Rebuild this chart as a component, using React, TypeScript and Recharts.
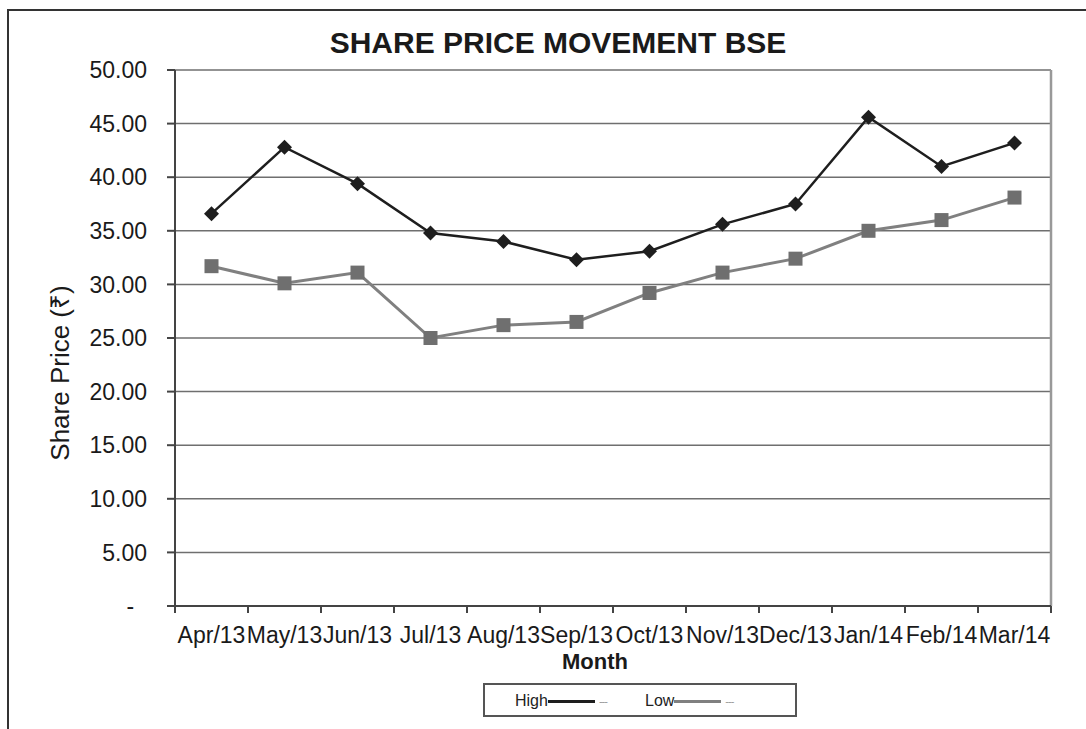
import { LineChart, Line, XAxis, YAxis, CartesianGrid, ReferenceLine } from "recharts";

const MONTHS = ["Apr/13", "May/13", "Jun/13", "Jul/13", "Aug/13", "Sep/13", "Oct/13", "Nov/13", "Dec/13", "Jan/14", "Feb/14", "Mar/14"];
const HIGH = [36.6, 42.8, 39.4, 34.8, 34.0, 32.3, 33.1, 35.6, 37.5, 45.6, 41.0, 43.2];
const LOW = [31.7, 30.1, 31.1, 25.0, 26.2, 26.5, 29.2, 31.1, 32.4, 35.0, 36.0, 38.1];
const Y_TICKS = [0, 5, 10, 15, 20, 25, 30, 35, 40, 45, 50];

// x positions: band centres on a numeric axis so tick marks sit between months
const data = MONTHS.map((month, i) => ({ pos: i + 0.5, month, high: HIGH[i], low: LOW[i] }));
const BOUNDARIES = MONTHS.map((_, i) => i).concat(MONTHS.length);
const CENTERS = MONTHS.map((_, i) => i + 0.5);

const FONT = '"Liberation Sans", Arial, sans-serif';
const HIGH_COLOR = "#1e1e1e";
const LOW_COLOR = "#808080";

function Diamond(props: any) {
  const { cx, cy } = props;
  if (cx == null || cy == null) return null;
  const r = 7.5;
  return <path d={`M${cx},${cy - r}L${cx + r},${cy}L${cx},${cy + r}L${cx - r},${cy}Z`} fill={HIGH_COLOR} />;
}

function Square(props: any) {
  const { cx, cy } = props;
  if (cx == null || cy == null) return null;
  return <rect x={cx - 7} y={cy - 7} width={14} height={14} fill="#6f6f6f" />;
}

function LegendItem({ name, color, left }: { name: string; color: string; left: number }) {
  return (
    <div style={{ position: "absolute", left, top: 7, display: "flex", alignItems: "center", fontSize: 16, color: "#222" }}>
      <span>{name}</span>
      <span style={{ display: "inline-block", width: 47, height: 3, background: color }} />
      <span style={{ fontSize: 11, color: "#999", marginLeft: 4, letterSpacing: -1 }}>---</span>
    </div>
  );
}

export default function App() {
  return (
    <div style={{ position: "absolute", left: 0, top: 0, width: 1086, height: 729, overflow: "hidden", background: "#fff", fontFamily: FONT }}>
      <div style={{ position: "absolute", left: 7, top: 9, right: -5, bottom: -5, borderTop: "2px solid #333", borderLeft: "2px solid #333" }} />

      <LineChart width={1086} height={729} data={data} margin={{ top: 70, right: 35, left: 95, bottom: 86 }}>
        <CartesianGrid xAxisId="a_ticks" vertical={false} stroke="#6f6f6f" strokeWidth={1.5} />
        <XAxis
          xAxisId="a_ticks"
          type="number"
          dataKey="pos"
          domain={[0, 12]}
          ticks={BOUNDARIES}
          tickFormatter={() => ""}
          height={7}
          tickSize={7}
          stroke="#444"
          strokeWidth={2}
        />
        <XAxis
          xAxisId="b_labels"
          type="number"
          dataKey="pos"
          domain={[0, 12]}
          ticks={CENTERS}
          tickFormatter={(v: number) => MONTHS[Math.floor(v)]}
          axisLine={false}
          tickLine={false}
          height={30}
          tickMargin={8}
          interval={0}
          tick={{ fontSize: 23, fill: "#1a1a1a", fontFamily: FONT }}
        />
        <YAxis
          type="number"
          domain={[0, 50]}
          ticks={Y_TICKS}
          width={80}
          tickSize={8}
          tickMargin={20}
          stroke="#444"
          strokeWidth={2}
          interval={0}
          tickFormatter={(v: number) => (v === 0 ? "-\u00a0\u00a0" : v.toFixed(2))}
          tick={{ fontSize: 23, fill: "#1a1a1a", fontFamily: FONT }}
        />
        <ReferenceLine xAxisId="a_ticks" x={12} stroke="#999" strokeWidth={2.5} />
        <Line
          xAxisId="a_ticks"
          dataKey="high"
          name="High"
          stroke={HIGH_COLOR}
          strokeWidth={2.5}
          dot={<Diamond />}
          activeDot={false}
          isAnimationActive={false}
        />
        <Line
          xAxisId="a_ticks"
          dataKey="low"
          name="Low"
          stroke={LOW_COLOR}
          strokeWidth={3}
          dot={<Square />}
          activeDot={false}
          isAnimationActive={false}
        />
      </LineChart>

      <div style={{ position: "absolute", left: 258, width: 600, top: 28, textAlign: "center", fontSize: 30, lineHeight: "30px", fontWeight: "bold", color: "#1a1a1a" }}>
        SHARE PRICE MOVEMENT BSE
      </div>
      <div style={{ position: "absolute", left: 495, width: 200, top: 651, textAlign: "center", fontSize: 22, lineHeight: "22px", fontWeight: "bold", color: "#1a1a1a" }}>
        Month
      </div>
      <div
        style={{
          position: "absolute",
          left: 59,
          top: 373,
          transform: "translate(-50%, -50%) rotate(-90deg)",
          whiteSpace: "nowrap",
          fontSize: 26,
          color: "#1a1a1a",
        }}
      >
        Share Price (₹)
      </div>

      <div style={{ position: "absolute", left: 483, top: 683, width: 310, height: 30, border: "2px solid #555" }}>
        <LegendItem name="High" color={HIGH_COLOR} left={30} />
        <LegendItem name="Low" color={LOW_COLOR} left={160} />
      </div>
    </div>
  );
}
